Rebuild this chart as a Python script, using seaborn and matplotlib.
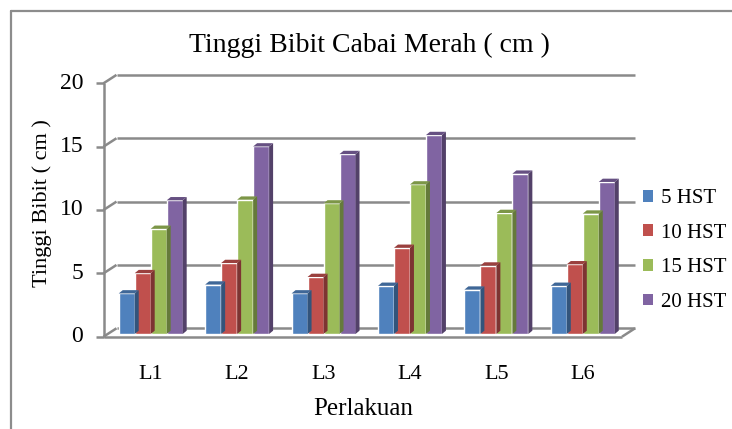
import numpy as np
import pandas as pd
import seaborn as sns
import matplotlib.pyplot as plt
from matplotlib import transforms as mtransforms
from matplotlib.patches import Polygon, Patch
from matplotlib.lines import Line2D

# ============================================
# DATA
# ============================================
perlakuan = ["L1", "L2", "L3", "L4", "L5", "L6"]
seri = ["5 HST", "10 HST", "15 HST", "20 HST"]
hst_5 = [3.2, 3.9, 3.2, 3.8, 3.5, 3.8]
hst_10 = [4.8, 5.6, 4.5, 6.8, 5.4, 5.5]
hst_15 = [8.3, 10.6, 10.3, 11.8, 9.55, 9.5]
hst_20 = [10.55, 14.8, 14.2, 15.7, 12.65, 12.0]
y_ticks = [0, 5, 10, 15, 20]

warna = ["#4F81BD", "#C0504D", "#9BBB59", "#8064A2"]
abu = "#8a8a8a"

datos = pd.DataFrame({
    "perlakuan": perlakuan * 4,
    "waktu": np.repeat(seri, len(perlakuan)),
    "tinggi": hst_5 + hst_10 + hst_15 + hst_20,
})

# ============================================
# STYLE
# ============================================
sns.set_theme(style="white")
plt.rcParams["font.family"] = ["Liberation Serif", "DejaVu Serif"]
plt.rcParams["text.color"] = "black"

W, H = 732, 429
fig = plt.figure(figsize=(W / 100, H / 100), dpi=100)
ax = fig.add_axes([107.5 / W, 1 - 334 / H, 518.5 / W, 253.4 / H])

sns.barplot(data=datos, x="perlakuan", y="tinggi", hue="waktu", palette=warna,
            width=0.74, saturation=1, legend=False, ax=ax, zorder=2, errorbar=None)
ax.set_xlim(-0.5, len(perlakuan) - 0.5)
ax.set_ylim(0, 20)
ax.set_yticks(y_ticks)
ax.set_xlabel("")
ax.set_ylabel("")
ax.tick_params(axis="y", length=0, labelsize=17, pad=17.5, labelcolor="black")
ax.tick_params(axis="x", length=0, labelsize=16, pad=22, labelcolor="black")
for s in ax.spines.values():
    s.set_visible(False)
ax.grid(False)

# ============================================
# PSEUDO 3D FRAME (back wall + floor)
# ============================================
ident = mtransforms.IdentityTransform()


def titik(xa, v, dx, dy):
    # x in axes fraction, v in data units, shifted by (dx, dy) pixels
    px = ax.transAxes.transform((xa, 0))[0]
    py = ax.transData.transform((0, v))[1]
    return px + dx, py + dy


def garis(p, q, lw=1.8, z=1):
    ax.add_line(Line2D([p[0], q[0]], [p[1], q[1]], transform=ident, color=abu,
                       lw=lw, clip_on=False, zorder=z, solid_capstyle="butt"))


depan = (-4, -2.7)
belakang = (9, 5.7)

for v in y_ticks:
    # gridline on back wall
    garis(titik(0, v, *belakang), titik(1, v, *belakang), z=0.5)
    # diagonal to the front axis
    garis(titik(0, v, *depan), titik(0, v, *belakang), z=0.5)
    # tick mark
    garis(titik(0, v, depan[0] - 8, depan[1]), titik(0, v, *depan), z=3)

garis(titik(0, 0, *depan), titik(0, 20, *depan), z=3)
garis(titik(0, 0, *depan), titik(1, 0, *depan), z=3)
garis(titik(1, 0, *depan), titik(1, 0, *belakang), z=3)

# side and top faces of the bars
ddx, ddy = 4, 3.3
for bar in list(ax.patches):
    x0, y0 = ax.transData.transform((bar.get_x(), 0))
    x1, y1 = ax.transData.transform((bar.get_x() + bar.get_width(), bar.get_height()))
    c = np.array(bar.get_facecolor()[:3])
    sisi = [(x1, y0), (x1 + ddx, y0 + ddy), (x1 + ddx, y1 + ddy), (x1, y1)]
    atas = [(x0, y1), (x1, y1), (x1 + ddx, y1 + ddy), (x0 + ddx, y1 + ddy)]
    ax.add_patch(Polygon(sisi, closed=True, transform=ident, facecolor=c * 0.65,
                         edgecolor="none", zorder=2.1, clip_on=False))
    ax.add_patch(Polygon(atas, closed=True, transform=ident, facecolor=c * 0.8,
                         edgecolor="none", zorder=2.1, clip_on=False))

# ============================================
# TEXTS AND LEGEND
# ============================================
fig.text(369 / W, 1 - 45 / H, "Tinggi Bibit Cabai Merah ( cm )", fontsize=20,
         ha="center", va="center")
fig.text(42 / W, 1 - 203 / H, "Tinggi Bibit ( cm )", fontsize=16, rotation=90,
         ha="center", va="center")
fig.text(363 / W, 1 - 409 / H, "Perlakuan", fontsize=18, ha="center", va="center")

handles = [Patch(facecolor=c, edgecolor="none") for c in warna]
fig.legend(handles, seri, loc="upper left", bbox_to_anchor=(643 / W, 1 - 189 / H),
           frameon=False, fontsize=15, handlelength=0.5, handleheight=0.5,
           handletextpad=0.35, labelspacing=0.75, borderaxespad=0, borderpad=0)

# outer border (only top and left visible)
fig.add_artist(Line2D([11 / W, 1], [1 - 11 / H, 1 - 11 / H], transform=fig.transFigure,
                      color="#8c8c8c", lw=1.6))
fig.add_artist(Line2D([11 / W, 11 / W], [0, 1 - 11 / H], transform=fig.transFigure,
                      color="#8c8c8c", lw=1.6))

fig.savefig("out.png", dpi=100)
